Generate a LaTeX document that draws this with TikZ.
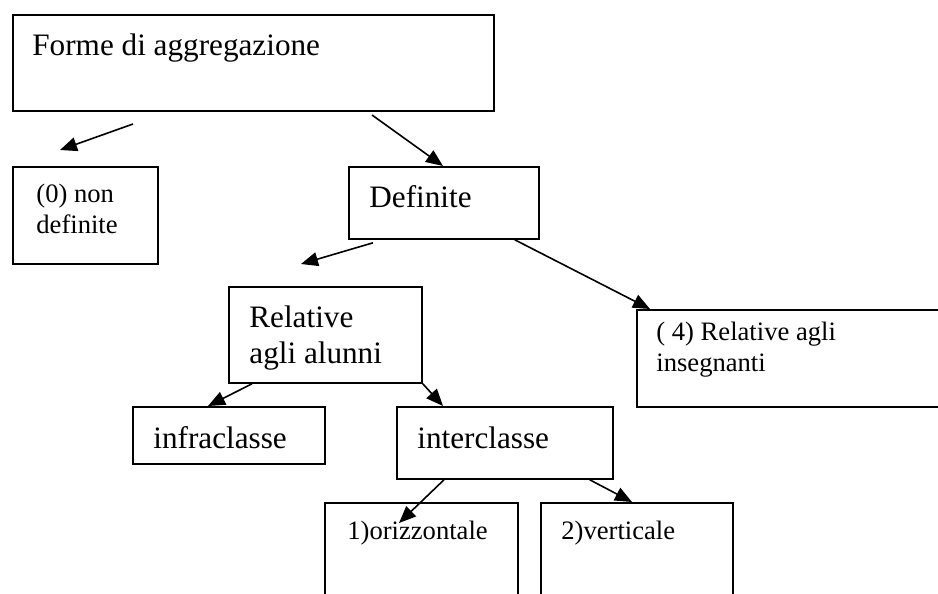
\documentclass[tikz,border=0pt]{standalone}
\usepackage{fontspec}
\setmainfont{Liberation Serif}
\usetikzlibrary{arrows.meta}

\begin{document}
\begin{tikzpicture}[
  x=0.5pt, y=-0.5pt,
  line join=miter,
  box/.style={draw=black, line width=0.9pt, rectangle, inner sep=0pt, anchor=north west},
  lbl/.style={inner sep=0pt, anchor=north west, align=left},
  big/.style={lbl, font=\fontsize{15.6}{18}\selectfont},
  small/.style={lbl, font=\fontsize{13.3}{15.5}\selectfont},
]
\tikzset{link/.style={draw=black, line width=0.8pt, -{Triangle[length=8.5pt,width=7pt]}}}
\useasboundingbox (0,0) rectangle (938,594);
\clip (0,0) rectangle (938,594);

\node[box, minimum width=240.5pt, minimum height=48pt] (forme) at (12,14) {};
\node[box, minimum width=72.5pt, minimum height=48.5pt] (nondef) at (12,166) {};
\node[box, minimum width=95pt, minimum height=36pt] (defin) at (348,166) {};
\node[box, minimum width=96.5pt, minimum height=48pt] (relal) at (228,286) {};
\node[box, minimum width=170pt, minimum height=48.5pt] (inseg) at (636,309) {};
\node[box, minimum width=96pt, minimum height=28.5pt] (infra) at (132,406) {};
\node[box, minimum width=108pt, minimum height=36pt] (inter) at (396,406) {};
\node[box, minimum width=96.5pt, minimum height=60pt] (orizz) at (324,502) {};
\node[box, minimum width=96pt, minimum height=60pt] (vert) at (540,502) {};

\node[big] (formeT) at (32,33) {Forme di aggregazione};
\node[small] (nondefT) at (36,184) {(0) non\\definite};
\node[big] (definT) at (369,185) {Definite};
\node[big] (relalT) at (249,305) {Relative\\agli alunni};
\node[small] (insegT) at (656,322) {( 4) Relative agli\\insegnanti};
\node[big] (infraT) at (153,426) {infraclasse};
\node[big] (interT) at (417,426) {interclasse};
\node[small] (orizzT) at (347,521) {1)orizzontale};
\node[small] (vertT) at (561,521) {2)verticale};

\coordinate (formeA) at (133,124);
\coordinate (nondefA) at (60,150);
\coordinate (formeB) at (372,115);
\coordinate (relalA) at (301,264);
\coordinate (orizzA) at (399,523);

\draw[link] (formeA) -- (nondefA);
\draw[link] (formeB) -- ([shift={(95,0)}]defin.north west);
\draw[link] ([shift={(25,3)}]defin.south west) -- (relalA);
\draw[link] ([shift={(-25,0)}]defin.south east) -- ([shift={(14,0)}]inseg.north west);
\draw[link] ([shift={(24,0)}]relal.south west) -- ([shift={(76,0)}]infra.north west);
\draw[link] (relal.south east) -- ([shift={(47,0)}]inter.north west);
\draw[link] ([shift={(48,0)}]inter.south west) -- (orizzA);
\draw[link] ([shift={(-24,0)}]inter.south east) -- ([shift={(92,0)}]vert.north west);
\end{tikzpicture}
\end{document}
